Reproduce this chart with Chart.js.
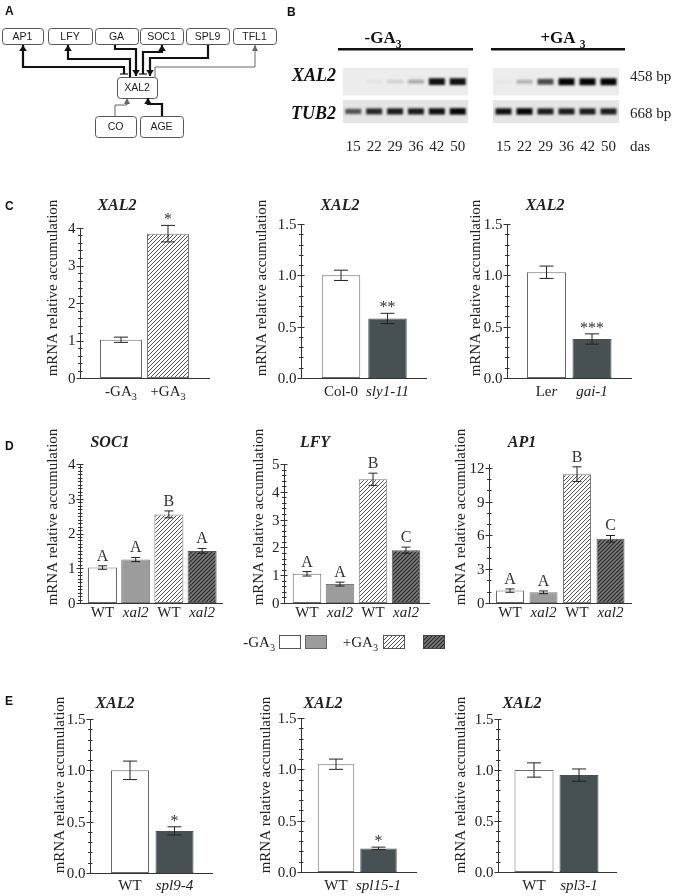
<!DOCTYPE html>
<html>
<head>
<meta charset="utf-8">
<script src="https://cdn.jsdelivr.net/npm/chart.js@4.4.0/dist/chart.umd.min.js"></script>
<style>
  body { margin: 0; background: #fff; }
  #page { position: relative; width: 675px; height: 896px; overflow: hidden; background: #fff; }
</style>
</head>
<body>
<div id="page"><canvas id="overlay" width="675" height="896" style="position:absolute;left:0;top:0"></canvas></div>
<script>
// ---- data ----
// B: band intensity (0-1) per sampling day
const days = ["15", "22", "29", "36", "42", "50"];
const xal2BandMinus = [0, 0.04, 0.12, 0.28, 0.95, 0.95];
const xal2BandPlus = [0.03, 0.25, 0.7, 1, 1, 1];
const tub2BandMinus = [0.65, 0.85, 0.9, 0.9, 0.95, 1];
const tub2BandPlus = [0.95, 1, 0.9, 0.9, 0.9, 0.9];

// C
const gaLabels = ["-GA~3~", "+GA~3~"];
const gaValues = [1.02, 3.85];
const gaErrors = [0.07, 0.22];
const gaMarks = ["", "*"];
const slyLabels = ["Col-0", "*sly1-11*"];
const slyValues = [1.0, 0.58];
const slyErrors = [0.05, 0.05];
const slyMarks = ["", "**"];
const gaiLabels = ["Le*r*", "*gai-1*"];
const gaiValues = [1.03, 0.38];
const gaiErrors = [0.06, 0.05];
const gaiMarks = ["", "***"];

// D
const dLabels = ["WT", "*xal2*", "WT", "*xal2*"];
const soc1Values = [1.02, 1.25, 2.55, 1.5];
const soc1Errors = [0.05, 0.06, 0.1, 0.07];
const soc1Groups = ["A", "A", "B", "A"];
const lfyValues = [1.05, 0.68, 4.45, 1.9];
const lfyErrors = [0.08, 0.07, 0.22, 0.11];
const lfyGroups = ["A", "A", "B", "C"];
const ap1Values = [1.1, 0.95, 11.45, 5.7];
const ap1Errors = [0.15, 0.12, 0.65, 0.3];
const ap1Groups = ["A", "A", "B", "C"];

// E
const spl9Labels = ["WT", "*spl9-4*"];
const spl9Values = [1.0, 0.41];
const spl9Errors = [0.09, 0.04];
const spl15Labels = ["WT", "*spl15-1*"];
const spl15Values = [1.05, 0.23];
const spl15Errors = [0.05, 0.012];
const spl3Labels = ["WT", "*spl3-1*"];
const spl3Values = [1.0, 0.95];
const spl3Errors = [0.07, 0.06];

// tick labels
const ticksGa = ["0", "1", "2", "3", "4"];
const ticksHalf = ["0.0", "0.5", "1.0", "1.5"];
const ticksSoc1 = ["0", "1", "2", "3", "4"];
const ticksLfy = ["0", "1", "2", "3", "4", "5"];
const ticksAp1 = ["0", "3", "6", "9", "12"];

// ---- helpers ----
const SERIF = '"Liberation Serif", "Times New Roman", serif';
const SANS = '"Liberation Sans", Arial, sans-serif';
const page = document.getElementById('page');

function hatch(bg, fg, lw) {
  const c = document.createElement('canvas');
  c.width = c.height = 4;
  const g = c.getContext('2d');
  g.fillStyle = bg; g.fillRect(0, 0, 4, 4);
  g.strokeStyle = fg; g.lineWidth = lw;
  g.beginPath();
  g.moveTo(-1, 5); g.lineTo(5, -1);
  g.moveTo(-1, 1); g.lineTo(1, -1);
  g.moveTo(3, 5); g.lineTo(5, 3);
  g.stroke();
  return g.createPattern(c, 'repeat');
}
const WHITE = '#ffffff', GRAY = '#9c9c9c', DARK = '#475052';
const HATCH_LIGHT = hatch('#ffffff', '#555555', 1);
const HATCH_DARK = hatch('#7a7a7a', '#2a2a2a', 1.2);

// "*x*" italic, "~x~" subscript
function segments(text) {
  return text.split(/(\*[^*]+\*|~[^~]+~)/).filter(s => s).map(s => {
    if (s[0] === '*') return { t: s.slice(1, -1), it: true };
    if (s[0] === '~') return { t: s.slice(1, -1), sub: true };
    return { t: s };
  });
}
function drawRich(ctx, text, x, y, size, opt = {}) {
  const segs = segments(text);
  const fam = opt.family || SERIF;
  const fontFor = s => `${(opt.italic || s.it) ? 'italic ' : ''}${opt.bold ? 'bold ' : ''}${s.sub ? size * 0.68 : size}px ${fam}`;
  let w = 0;
  segs.forEach(s => { ctx.font = fontFor(s); s.w = ctx.measureText(s.t).width; w += s.w; });
  let cx = opt.align === 'right' ? x - w : opt.align === 'left' ? x : x - w / 2;
  ctx.textAlign = 'left';
  ctx.textBaseline = opt.baseline || 'alphabetic';
  segs.forEach(s => {
    ctx.font = fontFor(s);
    ctx.fillText(s.t, cx, s.sub ? y + size * 0.28 : y);
    cx += s.w;
  });
}

function addCanvas(L, T, W, H) {
  const c = document.createElement('canvas');
  c.width = W; c.height = H;
  c.style.cssText = `position:absolute;left:${L}px;top:${T}px;width:${W}px;height:${H}px`;
  page.appendChild(c);
  return c;
}

// one bar panel, laid out in page pixels
function barPanel(o) {
  const L = Math.max(0, o.axisX - 80), T = o.top - 80;
  const W = o.axisEnd + 10 - L, H = o.zero + 30 - T;
  const n = o.values.length;
  const areaL = o.c0 - o.s / 2, areaR = o.c0 + o.s * (n - 0.5);
  const canvas = addCanvas(L, T, W, H);

  const paper = {
    id: 'paper',
    afterDatasetsDraw(chart) {
      const ctx = chart.ctx, y = chart.scales.y;
      const meta = chart.getDatasetMeta(0);
      const ax = o.axisX - L + 0.5;
      const y0 = Math.round(y.getPixelForValue(0)) + 0.5;
      ctx.save();
      ctx.strokeStyle = '#333'; ctx.lineWidth = 1; ctx.fillStyle = '#222';

      // error bars
      meta.data.forEach((bar, i) => {
        const v = o.values[i], e = o.errors[i];
        const pt = y.getPixelForValue(v + e), pb = y.getPixelForValue(v - e);
        ctx.strokeStyle = '#222';
        ctx.beginPath();
        ctx.moveTo(bar.x, pt); ctx.lineTo(bar.x, pb);
        ctx.moveTo(bar.x - o.cap, pt); ctx.lineTo(bar.x + o.cap, pt);
        ctx.moveTo(bar.x - o.cap, pb); ctx.lineTo(bar.x + o.cap, pb);
        ctx.stroke();
        const m = o.marks[i];
        if (m) {
          ctx.fillStyle = '#333';
          const star = m[0] === '*';
          ctx.font = `16px ${SERIF}`;
          ctx.textAlign = 'center'; ctx.textBaseline = 'alphabetic';
          ctx.fillText(m, bar.x, pt - (star ? 1 : 5));
        }
      });

      // axes
      ctx.strokeStyle = '#333';
      ctx.beginPath();
      ctx.moveTo(ax, Math.round(y.getPixelForValue(y.max)));
      ctx.lineTo(ax, y0);
      ctx.lineTo(o.axisEnd - L, y0);
      ctx.stroke();

      const majors = o.ticks.map(Number);
      const nMinor = Math.round(y.max / o.minor + 1e-6);
      ctx.beginPath();
      for (let k = 0; k <= nMinor; k++) {
        const v = k * o.minor;
        if (v > y.max + 1e-9) break;
        const p = Math.round(y.getPixelForValue(v)) + 0.5;
        const major = majors.some(t => Math.abs(t - v) < 1e-6);
        ctx.moveTo(ax - (major ? 4 : 2.5), p);
        ctx.lineTo(ax + (major ? 3 : 2), p);
      }
      ctx.stroke();

      ctx.fillStyle = '#222';
      ctx.font = `15px ${SERIF}`;
      ctx.textAlign = 'right'; ctx.textBaseline = 'middle';
      o.ticks.forEach(t => ctx.fillText(t, ax - 5, y.getPixelForValue(Number(t)) + 1));

      // category labels
      meta.data.forEach((bar, i) => drawRich(ctx, o.labels[i], bar.x, o.labelY - T, 15));

      // gene title
      drawRich(ctx, o.title, o.titleX - L, o.titleY - T, 16, { bold: true, italic: true });

      // y title
      ctx.save();
      ctx.translate(o.yTitleX - L, o.yTitleY - T);
      ctx.rotate(-Math.PI / 2);
      ctx.font = `15px ${SERIF}`;
      ctx.textAlign = 'center'; ctx.textBaseline = 'middle';
      ctx.fillText('mRNA relative accumulation', 0, 0);
      ctx.restore();
      ctx.restore();
    }
  };

  new Chart(canvas, {
    type: 'bar',
    data: {
      labels: o.labels,
      datasets: [{
        data: o.values,
        backgroundColor: o.fills,
        borderColor: o.borders,
        borderWidth: 1,
        borderSkipped: false,
        barPercentage: o.w / o.s,
        categoryPercentage: 1
      }]
    },
    options: {
      responsive: false,
      animation: false,
      events: [],
      layout: { padding: { left: areaL - L, right: L + W - areaR, top: o.top - T, bottom: T + H - o.zero } },
      plugins: { legend: { display: false }, tooltip: { enabled: false } },
      scales: {
        x: { display: false },
        y: { display: false, min: 0, max: o.yMax }
      }
    },
    plugins: [paper]
  });
}

// gel strip (panel B) drawn as a point chart, one band per lane
function gelPanel(o) {
  const L = o.left - 10, T = o.top - 5;
  const W = o.right - o.left + 20, H = o.bottom - o.top + 35;
  const canvas = addCanvas(L, T, W, H);
  const gel = {
    id: 'gel',
    beforeDatasetsDraw(chart) {
      const ctx = chart.ctx, y = chart.scales.y, a = chart.chartArea;
      ctx.fillStyle = '#ececec';
      ctx.fillRect(a.left, y.getPixelForValue(2), a.right - a.left, y.getPixelForValue(1) - y.getPixelForValue(2));
      ctx.fillStyle = '#e4e4e4';
      ctx.fillRect(a.left, y.getPixelForValue(0.83), a.right - a.left, y.getPixelForValue(0) - y.getPixelForValue(0.83));
      ctx.save();
      ctx.filter = 'blur(0.9px)';
      ctx.lineCap = 'butt';
    },
    afterDatasetsDraw(chart) {
      const ctx = chart.ctx, x = chart.scales.x;
      ctx.restore();
      ctx.fillStyle = '#222';
      ctx.font = `15px ${SERIF}`;
      ctx.textAlign = 'center'; ctx.textBaseline = 'alphabetic';
      days.forEach((d, i) => ctx.fillText(d, x.getPixelForValue(i), 151 - T));
    }
  };
  const band = a => `rgba(5,5,5,${a})`;
  new Chart(canvas, {
    type: 'line',
    data: {
      labels: days,
      datasets: [
        { data: days.map(() => 1.5), showLine: false, pointStyle: 'line', pointRadius: 8,
          pointBorderWidth: o.xal2.map(a => 3 + 4 * a), pointBorderColor: o.xal2.map(band) },
        { data: days.map(() => 0.42), showLine: false, pointStyle: 'line', pointRadius: 8,
          pointBorderWidth: o.tub2.map(a => 3 + 3.5 * a), pointBorderColor: o.tub2.map(band) }
      ]
    },
    options: {
      responsive: false,
      animation: false,
      events: [],
      layout: { padding: { left: 10, right: 10, top: 5, bottom: 35 } },
      plugins: { legend: { display: false }, tooltip: { enabled: false } },
      scales: {
        x: { display: false, offset: true },
        y: { display: false, min: 0, max: 2 }
      }
    },
    plugins: [gel]
  });
}

// ---- panel B gels ----
gelPanel({ left: 338, right: 473, top: 58, bottom: 128, xal2: xal2BandMinus, tub2: tub2BandMinus });
gelPanel({ left: 488, right: 624, top: 58, bottom: 128, xal2: xal2BandPlus, tub2: tub2BandPlus });

// ---- panel C ----
barPanel({ axisX: 80, axisEnd: 210, top: 228, zero: 378, yMax: 4, ticks: ticksGa, minor: 0.2,
  c0: 121, s: 47, w: 42, cap: 7, labels: gaLabels, values: gaValues, errors: gaErrors, marks: gaMarks,
  fills: [WHITE, HATCH_LIGHT], borders: ['#6a6a6a', '#777'],
  title: 'XAL2', titleX: 117, titleY: 210, yTitleX: 53, yTitleY: 288, labelY: 396 });
barPanel({ axisX: 301, axisEnd: 427, top: 224, zero: 378, yMax: 1.5, ticks: ticksHalf, minor: 0.1,
  c0: 341, s: 46.5, w: 38.5, cap: 7, labels: slyLabels, values: slyValues, errors: slyErrors, marks: slyMarks,
  fills: [WHITE, DARK], borders: ['#6a6a6a', DARK],
  title: 'XAL2', titleX: 340, titleY: 210, yTitleX: 262, yTitleY: 288, labelY: 396 });
barPanel({ axisX: 507, axisEnd: 632, top: 224, zero: 378, yMax: 1.5, ticks: ticksHalf, minor: 0.1,
  c0: 546.5, s: 45.5, w: 39, cap: 7, labels: gaiLabels, values: gaiValues, errors: gaiErrors, marks: gaiMarks,
  fills: [WHITE, DARK], borders: ['#6a6a6a', DARK],
  title: 'XAL2', titleX: 545, titleY: 210, yTitleX: 476, yTitleY: 288, labelY: 396 });

// ---- panel D ----
const dFills = [WHITE, GRAY, HATCH_LIGHT, HATCH_DARK];
const dBorders = ['#6a6a6a', '#7a7a7a', '#777', '#555'];
barPanel({ axisX: 80, axisEnd: 223, top: 464, zero: 603, yMax: 4, ticks: ticksSoc1, minor: 0.1,
  c0: 102.5, s: 33.2, w: 29, cap: 4.5, labels: dLabels, values: soc1Values, errors: soc1Errors, marks: soc1Groups,
  fills: dFills, borders: dBorders,
  title: 'SOC1', titleX: 110, titleY: 447, yTitleX: 53, yTitleY: 517, labelY: 617 });
barPanel({ axisX: 284, axisEnd: 430, top: 464, zero: 603, yMax: 5, ticks: ticksLfy, minor: 0.2,
  c0: 307, s: 33, w: 28.5, cap: 4.5, labels: dLabels, values: lfyValues, errors: lfyErrors, marks: lfyGroups,
  fills: dFills, borders: dBorders,
  title: 'LFY', titleX: 315, titleY: 447, yTitleX: 259, yTitleY: 517, labelY: 617 });
barPanel({ axisX: 489, axisEnd: 632, top: 464, zero: 603, yMax: 12.35, ticks: ticksAp1, minor: 1,
  c0: 510, s: 33.5, w: 28, cap: 4.5, labels: dLabels, values: ap1Values, errors: ap1Errors, marks: ap1Groups,
  fills: dFills, borders: dBorders,
  title: 'AP1', titleX: 522, titleY: 447, yTitleX: 461, yTitleY: 517, labelY: 617 });

// ---- panel E ----
barPanel({ axisX: 90, axisEnd: 213, top: 719, zero: 873, yMax: 1.5, ticks: ticksHalf, minor: 0.1,
  c0: 130, s: 44.5, w: 38, cap: 7, labels: spl9Labels, values: spl9Values, errors: spl9Errors, marks: ["", "*"],
  fills: [WHITE, DARK], borders: ['#6a6a6a', DARK],
  title: 'XAL2', titleX: 115, titleY: 708, yTitleX: 60, yTitleY: 785, labelY: 890 });
barPanel({ axisX: 301, axisEnd: 417, top: 718, zero: 872, yMax: 1.5, ticks: ticksHalf, minor: 0.1,
  c0: 336, s: 42.5, w: 36.5, cap: 7, labels: spl15Labels, values: spl15Values, errors: spl15Errors, marks: ["", "*"],
  fills: [WHITE, DARK], borders: ['#6a6a6a', DARK],
  title: 'XAL2', titleX: 323, titleY: 708, yTitleX: 266, yTitleY: 785, labelY: 890 });
barPanel({ axisX: 498, axisEnd: 617, top: 719, zero: 872, yMax: 1.5, ticks: ticksHalf, minor: 0.1,
  c0: 534, s: 45, w: 39, cap: 7, labels: spl3Labels, values: spl3Values, errors: spl3Errors, marks: ["", ""],
  fills: [WHITE, DARK], borders: ['#6a6a6a', DARK],
  title: 'XAL2', titleX: 522, titleY: 708, yTitleX: 461, yTitleY: 785, labelY: 890 });

// ---- overlay: panel letters, diagram A, gel captions, legend ----
const ov = document.getElementById('overlay').getContext('2d');
ov.fillStyle = '#111';
ov.font = `bold 12px ${SANS}`;
ov.textAlign = 'left'; ov.textBaseline = 'alphabetic';
[['A', 5, 15], ['B', 287, 16], ['C', 5, 210], ['D', 5, 450], ['E', 5, 705]].forEach(([t, x, y]) => ov.fillText(t, x, y));

// diagram A
function node(x1, y1, x2, y2, label) {
  ov.strokeStyle = '#555'; ov.lineWidth = 1;
  ov.beginPath(); ov.roundRect(x1 + 0.5, y1 + 0.5, x2 - x1, y2 - y1, 3); ov.stroke();
  ov.fillStyle = '#222'; ov.font = `10.5px ${SANS}`;
  ov.textAlign = 'center'; ov.textBaseline = 'middle';
  ov.fillText(label, (x1 + x2) / 2, (y1 + y2) / 2 + 1);
}
function link(pts, thick, end, start) {
  const lw = thick ? 2.2 : 1, col = thick ? '#111' : '#666';
  ov.strokeStyle = col; ov.fillStyle = col; ov.lineWidth = lw;
  ov.beginPath();
  pts.forEach(([x, y], i) => i ? ov.lineTo(x, y) : ov.moveTo(x, y));
  ov.stroke();
  if (end === 'arrow') {
    const [x1, y1] = pts[pts.length - 2], [x2, y2] = pts[pts.length - 1];
    const a = Math.atan2(y2 - y1, x2 - x1), len = 6, hw = thick ? 3.8 : 3;
    ov.beginPath();
    ov.moveTo(x2, y2);
    ov.lineTo(x2 - len * Math.cos(a) + hw * Math.sin(a), y2 - len * Math.sin(a) - hw * Math.cos(a));
    ov.lineTo(x2 - len * Math.cos(a) - hw * Math.sin(a), y2 - len * Math.sin(a) + hw * Math.cos(a));
    ov.closePath(); ov.fill();
  }
  if (start === 'bar') {
    const [x, y] = pts[0];
    ov.lineWidth = 1.2;
    ov.beginPath(); ov.moveTo(x - 4, y); ov.lineTo(x + 4, y); ov.stroke();
  }
}
[[2, 28, 43, 44, 'AP1'], [48, 28, 92, 44, 'LFY'], [95, 28, 138, 44, 'GA'], [140, 28, 183, 44, 'SOC1'],
 [186, 28, 229, 44, 'SPL9'], [233, 28, 276, 44, 'TFL1'], [117, 77, 157, 98, 'XAL2'],
 [95, 116, 136, 137, 'CO'], [140, 116, 183, 137, 'AGE']].forEach(b => node(...b));
link([[124, 74], [124, 67], [23, 67], [23, 45]], true, 'arrow', 'bar');
link([[130, 77], [130, 59], [68, 59], [68, 45]], true, 'arrow');
link([[115, 45], [115, 49], [136, 49], [136, 76]], true, 'arrow');
link([[143, 74], [143, 52], [162, 52], [162, 45]], true, 'arrow', 'bar');
link([[208, 45], [208, 58], [150, 58], [150, 76]], true, 'arrow');
link([[155, 77], [155, 67], [255, 67], [255, 45]], false, 'arrow');
link([[115, 116], [115, 105], [127, 105], [127, 98]], false, 'arrow');
link([[162, 116], [162, 104], [148, 104], [148, 98]], true, 'arrow');

// panel B captions
ov.fillStyle = '#111';
drawRich(ov, '-GA~3~', 383, 43, 17, { bold: true });
drawRich(ov, '+GA ~3~', 563, 43, 17, { bold: true });
ov.fillRect(338, 48, 135, 2.5);
ov.fillRect(491, 48, 134, 2.5);
drawRich(ov, 'XAL2', 336, 81, 18, { bold: true, italic: true, align: 'right' });
drawRich(ov, 'TUB2', 336, 119, 18, { bold: true, italic: true, align: 'right' });
ov.fillStyle = '#222';
drawRich(ov, '458 bp', 630, 81, 15, { align: 'left' });
drawRich(ov, '668 bp', 630, 118, 15, { align: 'left' });
drawRich(ov, 'das', 630, 151, 15, { align: 'left' });

// legend under panel D
ov.fillStyle = '#222';
drawRich(ov, '-GA~3~', 275, 647, 15, { align: 'right' });
drawRich(ov, '+GA~3~', 378, 647, 15, { align: 'right' });
[[279, WHITE, '#555'], [305, GRAY, '#666'], [383, HATCH_LIGHT, '#555'], [423, HATCH_DARK, '#444']].forEach(([x, f, b]) => {
  ov.fillStyle = f; ov.fillRect(x, 635, 22, 14);
  ov.strokeStyle = b; ov.lineWidth = 1; ov.strokeRect(x + 0.5, 635.5, 21, 13);
});
</script>
</body>
</html>
